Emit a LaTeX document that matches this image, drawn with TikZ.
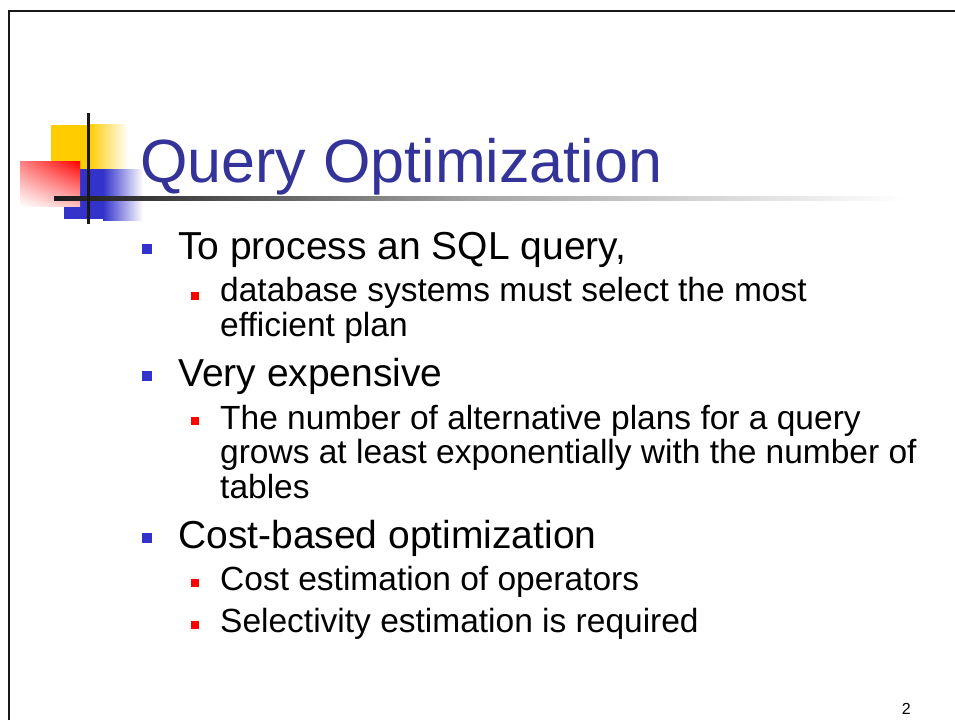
\documentclass[tikz,border=0pt]{standalone}
\usepackage{fontspec}
\setmainfont{Liberation Sans}
\usepackage{tikz}
\usetikzlibrary{shadings}

\definecolor{titleblue}{HTML}{333399}
\definecolor{logoyellow}{HTML}{FFCC00}
\definecolor{logoblue}{HTML}{3333CC}
\definecolor{logored}{HTML}{FF0000}

\tikzset{
    lvlone/.style={anchor=base west, inner sep=0pt, font=\fontsize{39}{46}\selectfont},
    lvltwo/.style={anchor=base west, inner sep=0pt, align=left, font=\fontsize{33.5}{34.5}\selectfont},
    bulone/.style={fill=logoblue},
    bultwo/.style={fill=logored}
}

\begin{document}
\begin{tikzpicture}[x=1pt, y=-1pt]
    \useasboundingbox (0,0) rectangle (955,720);
    % frame
    \draw[line width=2.5pt, black!90] (9,720) -- (9,11) -- (955,11);
    % logo
    \fill[logoyellow] (51,125) rectangle (89,169);
    \shade[left color=logoyellow, right color=white] (89,124) rectangle (128,168);
    \fill[logoblue] (64,169) rectangle (103,219);
    \shade[left color=logoblue, right color=white] (103,169) rectangle (143,220);
    \shade[upper right=logored, lower left=white, upper left=logored!50, lower right=logored!25] (20,161) rectangle (80,206);
    \shade[left color=black!90, right color=white, middle color=black!35] (54,196) rectangle (905,200);
    \draw[line width=3.5pt, black!90] (88.5,113) -- (88.5,224);
    % title
    \node[anchor=base west, inner sep=0pt, text=titleblue, font=\fontsize{61}{70}\selectfont] (title) at (140,182) {Query Optimization};
    % first item
    \fill[bulone] (142,244) rectangle (152,254);
    \node[lvlone] (proc) at (178,259) {To process an SQL query,};
    \fill[bultwo] (191,292) rectangle (199,300);
    \node[lvltwo] (plan) at (220,336) {database systems must select the most\\efficient plan};
    % second item
    \fill[bulone] (142,371) rectangle (152,381);
    \node[lvlone] (exp) at (178,386) {Very expensive};
    \fill[bultwo] (191,417) rectangle (199,425);
    \node[lvltwo] (alt) at (220,498) {The number of alternative plans for a query\\grows at least exponentially with the number of\\tables};
    % third item
    \fill[bulone] (142,533) rectangle (152,543);
    \node[lvlone] (cost) at (178,548) {Cost-based optimization};
    \fill[bultwo] (191,579) rectangle (199,587);
    \node[lvltwo] (oper) at (220,590) {Cost estimation of operators};
    \fill[bultwo] (191,621) rectangle (199,629);
    \node[lvltwo] (sel) at (220,632) {Selectivity estimation is required};
    % page number
    \node[anchor=base east, inner sep=0pt, font=\fontsize{16}{18}\selectfont] (page) at (911,714) {2};
\end{tikzpicture}
\end{document}
